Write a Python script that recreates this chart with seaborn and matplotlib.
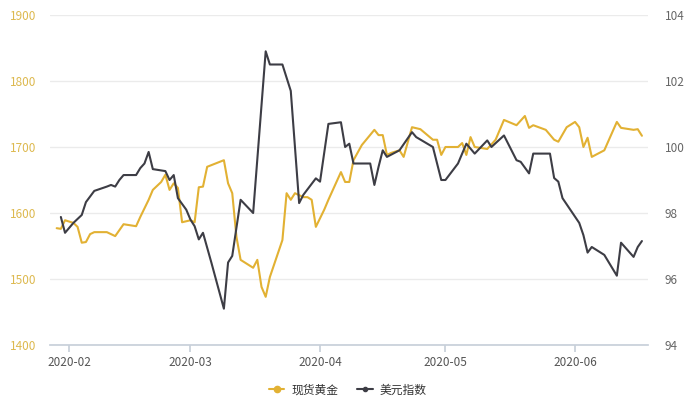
import matplotlib
matplotlib.use("Agg")
import matplotlib.pyplot as plt
import matplotlib.dates as mdates
from matplotlib.lines import Line2D
import seaborn as sns
import pandas as pd

sns.set_theme(style="white")
plt.rcParams['font.family'] = ['Noto Sans CJK SC', 'DejaVu Sans']

# spot gold (left axis)
gold_dates = ["2020-01-29", "2020-01-30", "2020-01-31", "2020-02-02", "2020-02-03", "2020-02-04",
              "2020-02-05", "2020-02-06", "2020-02-07", "2020-02-10", "2020-02-12", "2020-02-14",
              "2020-02-17", "2020-02-18", "2020-02-19", "2020-02-20", "2020-02-21", "2020-02-23",
              "2020-02-24", "2020-02-25", "2020-02-26", "2020-02-27", "2020-02-28", "2020-03-01",
              "2020-03-02", "2020-03-03", "2020-03-04", "2020-03-05", "2020-03-09", "2020-03-10",
              "2020-03-11", "2020-03-12", "2020-03-13", "2020-03-16", "2020-03-17", "2020-03-18",
              "2020-03-19", "2020-03-20", "2020-03-23", "2020-03-24", "2020-03-25", "2020-03-26",
              "2020-03-28", "2020-03-29", "2020-03-30", "2020-03-31", "2020-04-02", "2020-04-03",
              "2020-04-06", "2020-04-07", "2020-04-08", "2020-04-09", "2020-04-11", "2020-04-14",
              "2020-04-15", "2020-04-16", "2020-04-17", "2020-04-18", "2020-04-20", "2020-04-21",
              "2020-04-23", "2020-04-25", "2020-04-28", "2020-04-29", "2020-04-30", "2020-05-01",
              "2020-05-04", "2020-05-05", "2020-05-06", "2020-05-07", "2020-05-08", "2020-05-11",
              "2020-05-13", "2020-05-15", "2020-05-18", "2020-05-20", "2020-05-21", "2020-05-22",
              "2020-05-25", "2020-05-27", "2020-05-28", "2020-05-30", "2020-06-01", "2020-06-02",
              "2020-06-03", "2020-06-04", "2020-06-05", "2020-06-08", "2020-06-11", "2020-06-12",
              "2020-06-15", "2020-06-16", "2020-06-17"]
gold_values = [1577, 1576, 1589, 1585, 1579, 1555,
               1556, 1568, 1571, 1571, 1565, 1583,
               1580, 1594, 1607, 1620, 1635, 1647,
               1658, 1635, 1645, 1638, 1586, 1589,
               1586, 1639, 1640, 1670, 1680, 1645,
               1630, 1564, 1529, 1517, 1529, 1488,
               1473, 1503, 1559, 1630, 1620, 1630,
               1624, 1624, 1620, 1579, 1605, 1620,
               1662, 1647, 1647, 1680, 1703, 1726,
               1718, 1718, 1688, 1691, 1695, 1685,
               1730, 1727, 1711, 1711, 1688, 1700,
               1700, 1706, 1688, 1715, 1700, 1697,
               1711, 1741, 1733, 1747, 1729, 1733,
               1726, 1711, 1708, 1730, 1738, 1730,
               1700, 1714, 1685, 1695, 1738, 1729,
               1726, 1727, 1717]

# US dollar index (right axis)
usd_dates = ["2020-01-30", "2020-01-31", "2020-02-02", "2020-02-04", "2020-02-05", "2020-02-07",
             "2020-02-10", "2020-02-11", "2020-02-12", "2020-02-13", "2020-02-14", "2020-02-17",
             "2020-02-18", "2020-02-19", "2020-02-20", "2020-02-21", "2020-02-24", "2020-02-25",
             "2020-02-26", "2020-02-27", "2020-02-29", "2020-03-01", "2020-03-02", "2020-03-03",
             "2020-03-04", "2020-03-06", "2020-03-09", "2020-03-10", "2020-03-11", "2020-03-13",
             "2020-03-16", "2020-03-19", "2020-03-20", "2020-03-23", "2020-03-25", "2020-03-27",
             "2020-03-28", "2020-03-31", "2020-04-01", "2020-04-03", "2020-04-06", "2020-04-07",
             "2020-04-08", "2020-04-09", "2020-04-13", "2020-04-14", "2020-04-15", "2020-04-16",
             "2020-04-17", "2020-04-20", "2020-04-23", "2020-04-24", "2020-04-28", "2020-04-30",
             "2020-05-01", "2020-05-04", "2020-05-06", "2020-05-08", "2020-05-11", "2020-05-12",
             "2020-05-15", "2020-05-18", "2020-05-19", "2020-05-21", "2020-05-22", "2020-05-26",
             "2020-05-27", "2020-05-28", "2020-05-29", "2020-06-02", "2020-06-03", "2020-06-04",
             "2020-06-05", "2020-06-08", "2020-06-11", "2020-06-12", "2020-06-15", "2020-06-16",
             "2020-06-17"]
usd_values = [97.88, 97.4, 97.7, 97.94, 98.33, 98.67,
              98.8, 98.85, 98.8, 99.0, 99.15, 99.15,
              99.36, 99.5, 99.85, 99.33, 99.27, 99.0,
              99.15, 98.45, 98.1, 97.8, 97.6, 97.2,
              97.4, 96.5, 95.1, 96.5, 96.7, 98.4,
              98.0, 102.9, 102.5, 102.5, 101.7, 98.3,
              98.55, 99.05, 98.95, 100.7, 100.75, 100.0,
              100.1, 99.5, 99.5, 98.85, 99.4, 99.9,
              99.7, 99.9, 100.45, 100.3, 100.0, 99.0,
              99.0, 99.5, 100.1, 99.8, 100.2, 100.0,
              100.35, 99.6, 99.55, 99.2, 99.8, 99.8,
              99.06, 98.95, 98.45, 97.7, 97.33, 96.8,
              96.97, 96.73, 96.1, 97.1, 96.67, 96.97,
              97.15]

gold_label = "现货黄金"
usd_label = "美元指数"
gold_color = "#E2B133"
usd_color = "#3D3D45"

gold = pd.DataFrame({"date": pd.to_datetime(gold_dates), "value": gold_values})
usd = pd.DataFrame({"date": pd.to_datetime(usd_dates), "value": usd_values})

fig = plt.figure(figsize=(7, 4), dpi=100)
ax = fig.add_axes([0.072, 0.1375, 0.854, 0.825])
ax2 = ax.twinx()

sns.lineplot(data=gold, x="date", y="value", ax=ax, color=gold_color, linewidth=1.5)
sns.lineplot(data=usd, x="date", y="value", ax=ax2, color=usd_color, linewidth=1.5)

ax.set_ylim(1400, 1900)
ax.set_yticks([1400, 1500, 1600, 1700, 1800, 1900])
ax2.set_ylim(94, 104)
ax2.set_yticks([94, 96, 98, 100, 102, 104])
ax.set_xlim(pd.Timestamp("2020-01-27 12:00"), pd.Timestamp("2020-06-18 12:00"))
ax.set_xticks(pd.to_datetime(["2020-02-01", "2020-03-01", "2020-04-01", "2020-05-01", "2020-06-01"]))
ax.xaxis.set_major_formatter(mdates.DateFormatter("%Y-%m"))

ax.grid(axis="y", color="#ebebeb", linewidth=1)
ax.set_axisbelow(True)
ax2.grid(False)
for a in (ax, ax2):
    a.set_xlabel("")
    a.set_ylabel("")
    for s in ("top", "left", "right", "bottom"):
        a.spines[s].set_visible(False)
ax.spines["bottom"].set_visible(True)
ax.spines["bottom"].set_color("#c8d0da")

ax.tick_params(axis="x", bottom=True, length=5, color="#c8d0da", labelsize=8.5, labelcolor="#555555", pad=3)
ax.tick_params(axis="y", left=False, length=0, labelsize=8.5, labelcolor="#DDB94F", pad=10)
ax2.tick_params(axis="y", right=False, length=0, labelsize=8.5, labelcolor="#666666", pad=12)

handles = [Line2D([], [], color=gold_color, linewidth=1.5, marker="o", markersize=4.5,
                  markerfacecolor=gold_color),
           Line2D([], [], color=usd_color, linewidth=1.5, marker="o", markersize=3,
                  markerfacecolor=usd_color)]
fig.legend(handles, [gold_label, usd_label], loc="center", bbox_to_anchor=(0.497, 0.025),
           ncol=2, frameon=False, fontsize=8.5, handlelength=1.3, handletextpad=0.6,
           columnspacing=1.6, labelcolor="#333333")

fig.savefig("out.png", dpi=100, facecolor="white")
